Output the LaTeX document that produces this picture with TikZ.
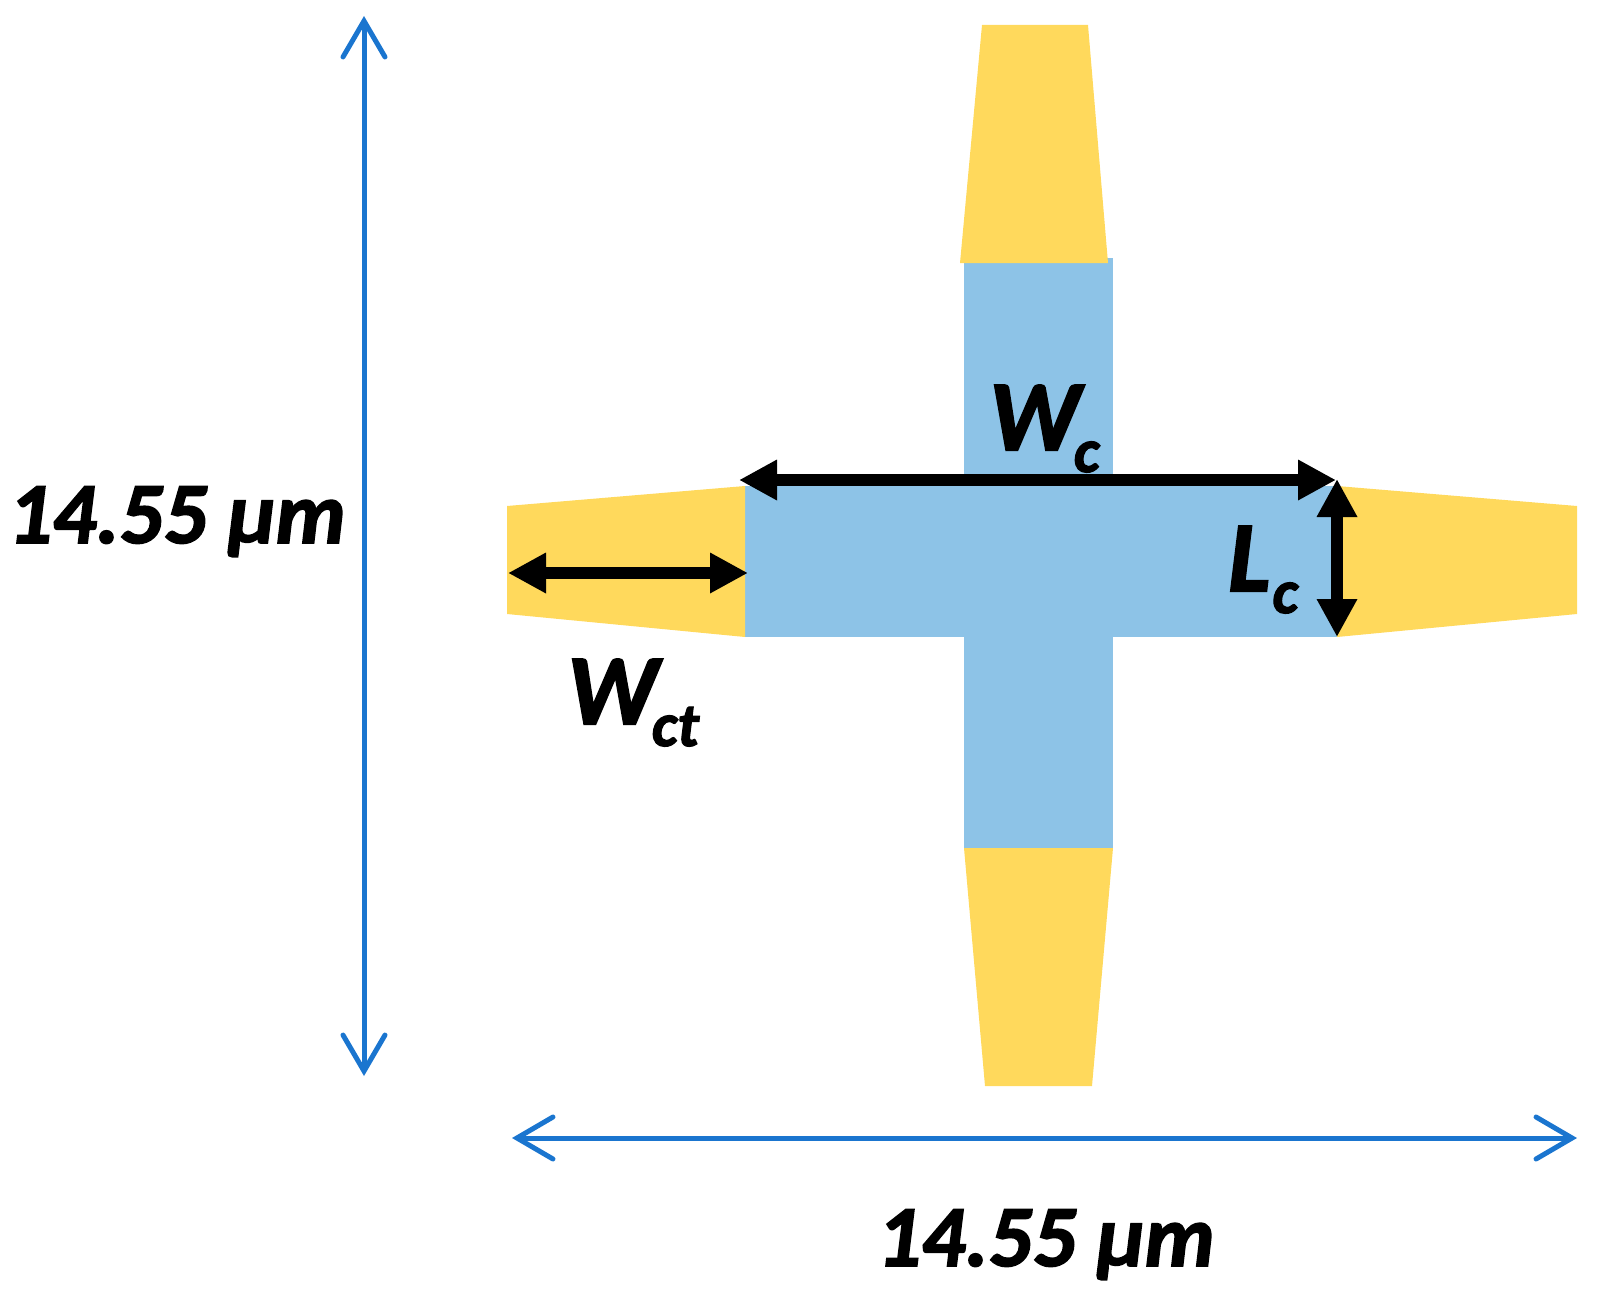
\documentclass[tikz,border=0pt]{standalone}
\usepackage{fontspec}
\setmainfont[BoldItalicFeatures={FakeBold=2}]{Carlito}
\usetikzlibrary{arrows.meta}
\definecolor{armblue}{HTML}{8DC3E7}
\definecolor{padyellow}{HTML}{FFD95C}
\definecolor{dimblue}{HTML}{1A75CF}
\newcommand{\lbl}[2]{\fontsize{100}{100}\selectfont\bfseries\itshape #1\kern-6pt\raisebox{-22pt}{\fontsize{62}{62}\selectfont #2}}
\tikzset{
size/.style={draw=dimblue,line width=5pt,>={Straight Barb[length=36pt,width=42pt,line cap=round,line join=miter]},<->},
dim/.style={draw=black,line width=12pt,>={Triangle[length=38pt,width=38pt]},<->},
val/.style={anchor=base west,inner sep=0pt,font=\fontsize{87}{87}\selectfont\bfseries\itshape},
lab/.style={anchor=base west,inner sep=0pt},
}
\begin{document}
\begin{tikzpicture}[x=1pt,y=-1pt]
\useasboundingbox (0,0) rectangle (1604,1295);
\fill[armblue](964,258) rectangle (1113,848);
\fill[armblue](745,486) rectangle (1337,637);
\fill[padyellow](982,25)--(1088,25)--(1108,263)--(960,263)--cycle;
\fill[padyellow](964,848)--(1113,848)--(1092,1086)--(985,1086)--cycle;
\fill[padyellow](745,486)--(745,637)--(507,614)--(507,506)--cycle;
\fill[padyellow](1337,486)--(1337,637)--(1577,614)--(1577,506)--cycle;
\coordinate(v1) at (364,16);
\coordinate(v2) at (364,1076);
\coordinate(h1) at (512,1138);
\coordinate(h2) at (1577,1138);
\coordinate(w1) at (739,480);
\coordinate(w2) at (1336,480);
\coordinate(l1) at (1337,479);
\coordinate(l2) at (1337,637);
\coordinate(t1) at (508,573);
\coordinate(t2) at (748,573);
\draw[size](v1)--(v2);
\draw[size](h1)--(h2);
\draw[dim](w1)--(w2);
\draw[dim](l1)--(l2);
\draw[dim](t1)--(t2);
\node[val](lv) at (8,543){14.55 µm};
\node[val](lh) at (877,1266){14.55 µm};
\node[lab](lw) at (989,450){\lbl{W}{c}};
\node[lab](ll) at (1228,591){\lbl{L\kern8pt}{c}};
\node[lab](lt) at (567,724){\lbl{W}{ct}};
\end{tikzpicture}
\end{document}
